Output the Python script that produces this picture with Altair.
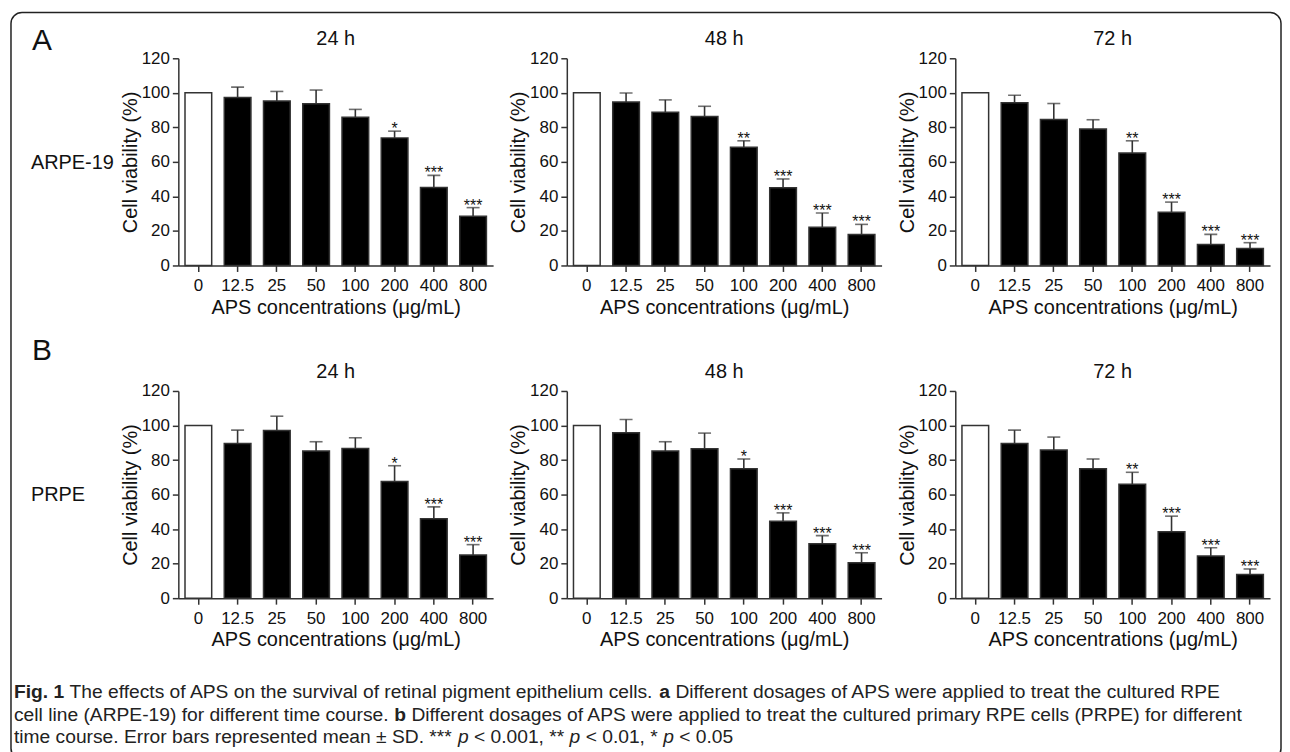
import altair as alt
import pandas as pd

# ---------------- data ----------------
conc = ["0", "12.5", "25", "50", "100", "200", "400", "800"]

a24_mean = [100, 97.3, 95.2, 93.6, 85.8, 73.9, 45.2, 28.5]
a24_sd = [0, 6.0, 5.6, 8.0, 4.6, 3.9, 7.0, 5.0]
a24_star = ["", "", "", "", "", "*", "***", "***"]

a48_mean = [100, 94.7, 88.8, 86.3, 68.5, 45.0, 22.2, 18.0]
a48_sd = [0, 5.2, 7.1, 5.9, 3.7, 5.1, 8.2, 5.8]
a48_star = ["", "", "", "", "**", "***", "***", "***"]

a72_mean = [100, 94.2, 84.6, 79.0, 65.1, 30.8, 12.2, 9.8]
a72_sd = [0, 4.4, 9.2, 5.4, 7.1, 5.9, 5.8, 3.4]
a72_star = ["", "", "", "", "**", "***", "***", "***"]

b24_mean = [100, 89.6, 97.1, 85.2, 86.7, 67.5, 46.0, 25.0]
b24_sd = [0, 7.7, 8.3, 5.4, 6.2, 9.2, 6.9, 6.0]
b24_star = ["", "", "", "", "", "*", "***", "***"]

b48_mean = [100, 95.8, 85.2, 86.5, 75.0, 44.6, 31.5, 20.5]
b48_sd = [0, 7.7, 5.4, 9.1, 5.6, 4.8, 4.7, 5.8]
b48_star = ["", "", "", "", "*", "***", "***", "***"]

b72_mean = [100, 89.6, 85.8, 75.0, 66.0, 38.5, 24.4, 13.7]
b72_sd = [0, 7.7, 7.5, 5.6, 6.9, 9.0, 4.8, 3.2]
b72_star = ["", "", "", "", "**", "***", "***", "***"]

panel_titles = ["24 h", "48 h", "72 h"]
row_letters = ["A", "B"]
row_names = ["ARPE-19", "PRPE"]
y_title = "Cell viability (%)"
x_title = "APS concentrations (μg/mL)"
y_ticks = [0, 20, 40, 60, 80, 100, 120]

caption_lines = [
    [("Fig. 1", "b"), (" The effects of APS on the survival of retinal pigment epithelium cells. ", "n"),
     ("a", "b"), (" Different dosages of APS were applied to treat the cultured RPE", "n")],
    [("cell line (ARPE-19) for different time course. ", "n"), ("b", "b"),
     (" Different dosages of APS were applied to treat the cultured primary RPE cells (PRPE) for different", "n")],
    [("time course. Error bars represented mean ± SD. *** ", "n"), ("p", "i"), (" < 0.001, ** ", "n"),
     ("p", "i"), (" < 0.01, * ", "n"), ("p", "i"), (" < 0.05", "n")],
]

FONT = "Liberation Sans"
INK = "#111111"
LINE = "#333333"

# Arial/Helvetica advance widths (1/1000 em) for laying out caption segments
_W = {' ': 278, '!': 278, '%': 889, '(': 333, ')': 333, '*': 389, ',': 278, '-': 333, '.': 278,
      '/': 278, ':': 278, '<': 584, '>': 584, '±': 584, '=': 584}
for d in "0123456789":
    _W[d] = 556
_W.update(dict(A=667, B=667, C=722, D=722, E=667, F=611, G=778, H=722, I=278, J=500, K=667, L=556,
               M=833, N=722, O=778, P=667, Q=778, R=722, S=667, T=611, U=722, V=667, W=944, X=667,
               Y=667, Z=611))
_W.update(dict(a=556, b=556, c=500, d=556, e=556, f=278, g=556, h=556, i=222, j=222, k=500, l=222,
               m=833, n=556, o=556, p=556, q=556, r=333, s=500, t=278, u=556, v=500, w=722, x=500,
               y=500, z=500))
_WB = dict(_W)
_WB.update(dict(i=278, g=611, b=611, l=278, r=389, t=333, F=611))


def text_em(s, style):
    table = _WB if style == "b" else _W
    return sum(table.get(ch, 556) for ch in s) / 1000.0


# caption size chosen so that the lines fit inside the frame
CAP_LINE1_PX = 1212
CAP_FS = round(CAP_LINE1_PX / sum(text_em(t, s) for t, s in caption_lines[0]), 2)

# positions relative to the first panel's plot origin
PLOT_ABS_X, PLOT_ABS_Y = 178, 58
CAP_X0 = 13 - PLOT_ABS_X
CAP_Y = [694 - PLOT_ABS_Y, 717 - PLOT_ABS_Y, 739 - PLOT_ABS_Y]

W_PANEL, H_PANEL = 316, 208
TITLE_DY = -19


def one(text):
    return alt.Chart(pd.DataFrame({"t": [text]}))


Y_AXIS = alt.Axis(title=y_title, values=y_ticks, tickCount=7, labelOverlap=False)
Y_SCALE = alt.Scale(domain=[0, 120], nice=False)


def panel(mean, sd, stars, title, extra=None):
    df = pd.DataFrame({"conc": conc, "v": mean, "sd": sd, "star": stars})
    base = alt.Chart(df).transform_calculate(top="datum.v + datum.sd")
    x = alt.X("conc:N", sort=conc,
              scale=alt.Scale(paddingInner=0.32, paddingOuter=0.17),
              axis=alt.Axis(title=x_title, labelAngle=0))
    bars = base.mark_bar(stroke=LINE, strokeWidth=1.5).encode(
        x=x,
        y=alt.Y("v:Q", scale=Y_SCALE, axis=Y_AXIS),
        fill=alt.condition("datum.conc == '0'", alt.value("white"), alt.value("black")),
    )
    err = base.transform_filter("datum.sd > 0").mark_rule(color=LINE, strokeWidth=1.6).encode(
        x=x, y=alt.Y("v:Q", scale=Y_SCALE, axis=Y_AXIS), y2="top:Q")
    cap = base.transform_filter("datum.sd > 0").mark_tick(color=LINE, thickness=1.6, size=13).encode(
        x=x, y=alt.Y("top:Q", scale=Y_SCALE, axis=Y_AXIS))
    st = base.transform_filter("datum.star != ''").mark_text(
        font=FONT, fontSize=16, color=INK, baseline="alphabetic", dy=3).encode(
        x=x, y=alt.Y("top:Q", scale=Y_SCALE, axis=Y_AXIS), text="star:N")
    ttl = one(title).mark_text(font=FONT, fontSize=20, color=INK, align="center", baseline="middle").encode(
        text="t:N", x=alt.value(W_PANEL / 2), y=alt.value(TITLE_DY))
    layers = []
    if extra:
        layers.append(extra[0])
    layers += [bars, err, cap, st, ttl]
    if extra:
        layers += extra[1:]
    return alt.layer(*layers).properties(width=W_PANEL, height=H_PANEL)


# ---------- annotations placed relative to the first panel ----------
frame = one("").mark_rect(fill="transparent", stroke="#222222", strokeWidth=1.5, cornerRadius=11).encode(
    x=alt.value(10 - PLOT_ABS_X), x2=alt.value(1285 - PLOT_ABS_X),
    y=alt.value(12 - PLOT_ABS_Y), y2=alt.value(762 - PLOT_ABS_Y))

extra = [frame]
extra.append(one(row_letters[0]).mark_text(font=FONT, fontSize=30, color=INK, align="left", baseline="middle")
             .encode(text="t:N", x=alt.value(31 - PLOT_ABS_X), y=alt.value(41 - PLOT_ABS_Y)))
extra.append(one(row_letters[1]).mark_text(font=FONT, fontSize=30, color=INK, align="left", baseline="middle")
             .encode(text="t:N", x=alt.value(31 - PLOT_ABS_X), y=alt.value(352 - PLOT_ABS_Y)))
extra.append(one(row_names[0]).mark_text(font=FONT, fontSize=20, color=INK, align="left", baseline="middle")
             .encode(text="t:N", x=alt.value(30 - PLOT_ABS_X), y=alt.value(163 - PLOT_ABS_Y)))
extra.append(one(row_names[1]).mark_text(font=FONT, fontSize=20, color=INK, align="left", baseline="middle")
             .encode(text="t:N", x=alt.value(30 - PLOT_ABS_X), y=alt.value(496 - PLOT_ABS_Y)))

for li, segs in enumerate(caption_lines):
    cx = CAP_X0
    for text, style in segs:
        lead = len(text) - len(text.lstrip(" "))
        stripped = text.strip(" ")
        x0 = cx + text_em(" " * lead, style) * CAP_FS
        kw = dict(font=FONT, fontSize=CAP_FS, color="#222222", align="left", baseline="middle")
        if style == "b":
            kw["fontWeight"] = "bold"
        if style == "i":
            kw["fontStyle"] = "italic"
        extra.append(one(stripped).mark_text(**kw).encode(
            text="t:N", x=alt.value(x0), y=alt.value(CAP_Y[li])))
        cx += text_em(text, style) * CAP_FS

pA24 = panel(a24_mean, a24_sd, a24_star, panel_titles[0], extra)
pA48 = panel(a48_mean, a48_sd, a48_star, panel_titles[1])
pA72 = panel(a72_mean, a72_sd, a72_star, panel_titles[2])
pB24 = panel(b24_mean, b24_sd, b24_star, panel_titles[0])
pB48 = panel(b48_mean, b48_sd, b48_star, panel_titles[1])
pB72 = panel(b72_mean, b72_sd, b72_star, panel_titles[2])

chart = (
    alt.concat(pA24, pA48, pA72, pB24, pB48, pB72, columns=3,
               spacing={"row": 126, "column": 74}, bounds="flush")
    .properties(padding={"left": 2, "top": 2, "right": 0, "bottom": 0}, background="white")
    .configure_view(stroke=None)
    .configure_axis(
        domainColor=LINE, domainWidth=1.5, tickColor=LINE, tickWidth=1.5, tickSize=6,
        labelFont=FONT, labelFontSize=17, labelColor=INK, labelPadding=3, labelOverlap=False,
        titleFont=FONT, titleFontSize=20, titleFontWeight="normal", titleColor=INK,
        grid=False,
    )
    .configure_axisY(titlePadding=1)
    .configure_axisX(titlePadding=4, labelPadding=6)
)

chart.save("out.html", embed_options={"renderer": "svg", "actions": False})
